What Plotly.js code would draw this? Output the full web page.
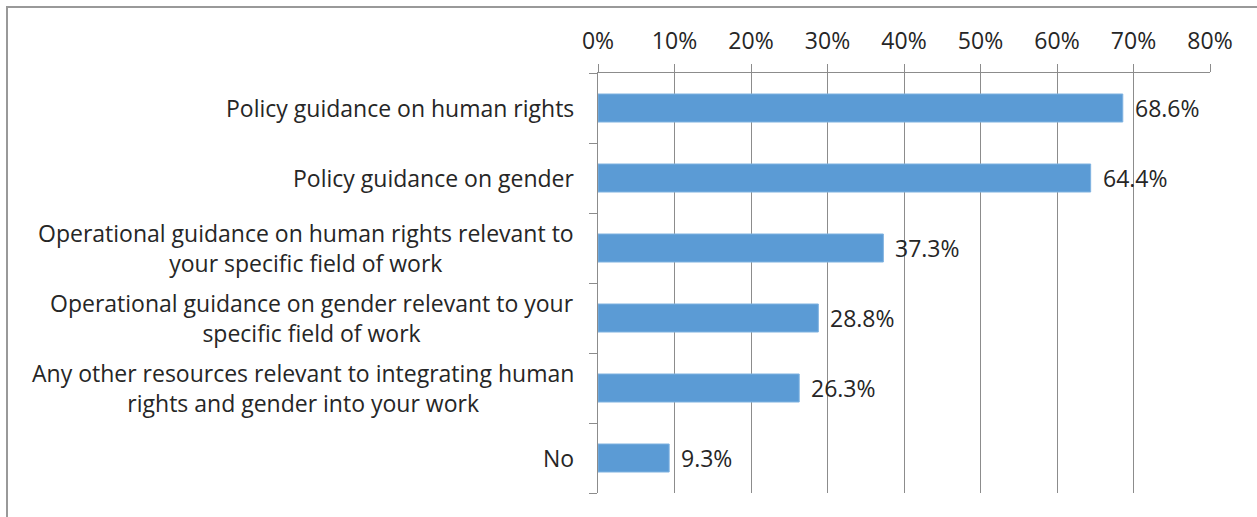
<!DOCTYPE html>
<html><head><meta charset="utf-8">
<script src="https://cdn.plot.ly/plotly-3.0.1.min.js"></script>
<style>
html,body{margin:0;padding:0;background:#fff;overflow:hidden;}
#chart{width:1257px;height:517px;position:relative;}
#frame{position:absolute;left:6px;top:6px;width:1260px;height:520px;border-left:2px solid #999;border-top:2px solid #999;pointer-events:none;}
</style>
</head><body>
<div style="position:relative;width:1257px;height:517px;overflow:hidden;">
<div id="chart"></div>
<div id="frame"></div>
</div>
<script>
const categories = [
  "Policy guidance on human rights",
  "Policy guidance on gender",
  "Operational guidance on human rights relevant to<br>your specific field of work",
  "Operational guidance on gender relevant to your<br>specific field of work",
  "Any other resources relevant to integrating human<br>rights and gender into your work",
  "No"
];
const values = [68.6, 64.4, 37.3, 28.8, 26.3, 9.3];
const xTickVals = [0,10,20,30,40,50,60,70,80];
const xTickText = ["0%","10%","20%","30%","40%","50%","60%","70%","80%"];

const idx = categories.map((c,i)=>i);
const font = {family:"'Open Sans', 'Noto Sans', sans-serif", size:23, color:"#262626"};

const trace = {
  type:"bar", orientation:"h",
  x: values, y: idx,
  marker:{color:"#5B9BD5", line:{color:"#7fb2e0", width:1}},
  width:0.4,
  hoverinfo:"skip"
};

const annotations = [];
categories.forEach((c,i)=>{
  annotations.push({x:0, y:i, xref:"x", yref:"y", text:c, showarrow:false,
    xanchor:"right", yanchor:"middle", align:"center", xshift:-22, font:font});
  annotations.push({x:values[i], y:i, xref:"x", yref:"y", text:values[i].toFixed(1)+"%", showarrow:false,
    xanchor:"left", yanchor:"middle", xshift:10, font:font});
});

const layout = {
  width:1257, height:517,
  margin:{l:598, r:47, t:73, b:24},
  paper_bgcolor:"#fff", plot_bgcolor:"#fff",
  showlegend:false,
  xaxis:{side:"top", range:[0,80], tickvals:xTickVals, ticktext:xTickText,
    showgrid:true, gridcolor:"#8c8c8c", gridwidth:1,
    showline:true, linecolor:"#8c8c8c", linewidth:1,
    ticks:"outside", ticklen:8, tickcolor:"#8c8c8c", ticklabelstandoff:6,
    tickfont:font, zeroline:false, fixedrange:true},
  yaxis:{range:[5.5,-0.5], tickvals:idx, showticklabels:false,
    showgrid:false, zeroline:false,
    showline:true, linecolor:"#8c8c8c", linewidth:1, ticks:"",
    minor:{tickmode:"linear", tick0:-0.5, dtick:1, ticks:"outside", ticklen:8, tickcolor:"#8c8c8c", showgrid:false},
    fixedrange:true},
  annotations:annotations
};
Plotly.newPlot("chart",[trace],layout,{displayModeBar:false, staticPlot:true});
</script>
</body></html>
